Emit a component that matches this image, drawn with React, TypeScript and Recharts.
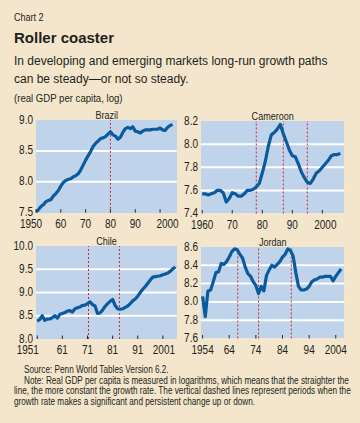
import { LineChart, Line, XAxis, YAxis, ReferenceLine } from "recharts";

const BG = "#f3e6cc";
const PLOT_BG = "#bfd3ea";
const LINE = "#0b5a9e";
const BREAK = "#c8283c";
const INK = "#231f20";
const SANS = '"Liberation Sans", Arial, sans-serif';
const SQUEEZE = 0.82; // no narrow face installed, so squeeze Liberation Sans

// real GDP per capita (log)
const BRAZIL_START = 1950;
const BRAZIL_GDP = [
  7.51, 7.55, 7.6, 7.63, 7.68, 7.7, 7.71, 7.77, 7.81, 7.86,
  7.93, 7.99, 8.02, 8.04, 8.05, 8.08, 8.1, 8.13, 8.19, 8.27,
  8.35, 8.42, 8.49, 8.57, 8.62, 8.66, 8.7, 8.71, 8.73, 8.77,
  8.81, 8.76, 8.74, 8.69, 8.72, 8.8, 8.86, 8.88, 8.86, 8.89,
  8.82, 8.81, 8.79, 8.82, 8.84, 8.84, 8.84, 8.85, 8.85, 8.85,
  8.87, 8.84, 8.83, 8.88, 8.91, 8.93,
];
const BRAZIL_BREAKS = [1980];
const BRAZIL_XTICKS = [1950, 1960, 1970, 1980, 1990, 2000];
const BRAZIL_XLABELS = ["1950", "60", "70", "80", "90", "2000"];
const BRAZIL_YTICKS = [7.5, 8.0, 8.5, 9.0];

const CAMEROON_START = 1960;
const CAMEROON_GDP = [
  7.57, 7.57, 7.56, 7.57, 7.58, 7.6, 7.6, 7.58, 7.5, 7.53,
  7.58, 7.57, 7.55, 7.55, 7.57, 7.6, 7.6, 7.61, 7.63, 7.66,
  7.75, 7.85, 7.98, 8.08, 8.1, 8.13, 8.17, 8.09, 8.02, 7.95,
  7.9, 7.89, 7.83, 7.76, 7.71, 7.67, 7.66, 7.7, 7.75, 7.77,
  7.8, 7.83, 7.86, 7.9, 7.91, 7.91, 7.92,
];
const CAMEROON_BREAKS = [1978, 1987, 1995];
const CAMEROON_XTICKS = [1960, 1970, 1980, 1990, 2000];
const CAMEROON_XLABELS = ["1960", "70", "80", "90", "2000"];
const CAMEROON_YTICKS = [7.4, 7.6, 7.8, 8.0, 8.2];

const CHILE_START = 1951;
const CHILE_GDP = [
  8.38, 8.42, 8.5, 8.4, 8.43, 8.43, 8.46, 8.5, 8.45, 8.53,
  8.55, 8.57, 8.6, 8.61, 8.58, 8.65, 8.67, 8.69, 8.72, 8.73,
  8.76, 8.8, 8.74, 8.71, 8.55, 8.56, 8.62, 8.7, 8.76, 8.81,
  8.85, 8.72, 8.65, 8.64, 8.65, 8.68, 8.71, 8.76, 8.82, 8.86,
  8.92, 9.0, 9.07, 9.13, 9.2, 9.27, 9.33, 9.34, 9.35, 9.36,
  9.38, 9.4, 9.42, 9.46, 9.51, 9.55,
];
const CHILE_BREAKS = [1971.4, 1983.7];
const CHILE_XTICKS = [1951, 1961, 1971, 1981, 1991, 2001];
const CHILE_XLABELS = ["1951", "61", "71", "81", "91", "2001"];
const CHILE_YTICKS = [8.0, 8.5, 9.0, 9.5, 10.0];

const JORDAN_START = 1954;
const JORDAN_GDP = [
  8.06, 7.84, 8.12, 8.13, 8.22, 8.32, 8.33, 8.42, 8.41, 8.44,
  8.49, 8.55, 8.58, 8.57, 8.52, 8.48, 8.38, 8.31, 8.28, 8.22,
  8.18, 8.09, 8.17, 8.12, 8.29, 8.35, 8.4, 8.38, 8.41, 8.44,
  8.49, 8.52, 8.58, 8.56, 8.5, 8.32, 8.17, 8.13, 8.13, 8.14,
  8.17, 8.22, 8.24, 8.25, 8.27, 8.27, 8.28, 8.28, 8.28, 8.23,
  8.28, 8.32, 8.36,
];
const JORDAN_BREAKS = [1967.2, 1975, 1987.3];
const JORDAN_XTICKS = [1954, 1964, 1974, 1984, 1994, 2004];
const JORDAN_XLABELS = ["1954", "64", "74", "84", "94", "2004"];
const JORDAN_YTICKS = [7.6, 7.8, 8.0, 8.2, 8.4, 8.6];

function SvgNarrow({ x, y, anchor, size, children }: any) {
  return (
    <text
      transform={`translate(${x},${y}) scale(${SQUEEZE},1)`}
      textAnchor={anchor}
      dominantBaseline="central"
      fontSize={size}
      fontFamily={SANS}
      fill={INK}
    >
      {children}
    </text>
  );
}

function Narrow({ left, top, size, children, indent = 0 }: any) {
  return (
    <div
      style={{
        position: "absolute",
        left: left + indent,
        top,
        fontFamily: SANS,
        fontSize: size,
        whiteSpace: "nowrap",
        transform: `scaleX(${SQUEEZE})`,
        transformOrigin: "left top",
        color: INK,
      }}
    >
      {children}
    </div>
  );
}

function XTick(props: any) {
  const { x, y, index, labels, shifts } = props;
  const dx = index === 0 ? shifts[0] : index === labels.length - 1 ? shifts[1] : 0;
  return (
    <g>
      <line x1={x} x2={x} y1={y - 3.5} y2={y} stroke="#2a2a2a" strokeWidth={1} />
      <SvgNarrow x={x + dx} y={y + 11} anchor="middle" size={12.2}>
        {labels[index]}
      </SvgNarrow>
    </g>
  );
}

function YTick(props: any) {
  const { x, y, payload } = props;
  return (
    <SvgNarrow x={x} y={y - 0.8} anchor="end" size={12.2}>
      {payload.value.toFixed(1)}
    </SvgNarrow>
  );
}

interface PanelProps {
  title: string;
  start: number;
  values: number[];
  breaks: number[];
  xTicks: number[];
  xLabels: string[];
  yTicks: number[];
  xDomain: [number, number];
  left: number;
  width: number;
  plot: { x0: number; y0: number; x1: number; y1: number };
  shifts: [number, number];
}

function Panel({ title, start, values, breaks, xTicks, xLabels, yTicks, xDomain, left, width, plot, shifts }: PanelProps) {
  const data = values.map((v, i) => ({ year: start + i, gdp: v }));
  const top = plot.y0 - 14;
  const axisH = 22;
  const height = plot.y1 - top + axisH;
  const yDomain: [number, number] = [yTicks[0], yTicks[yTicks.length - 1]];
  return (
    <>
      <div
        style={{
          position: "absolute",
          left: plot.x0,
          top: plot.y0,
          width: plot.x1 - plot.x0,
          height: plot.y1 - plot.y0,
          background: PLOT_BG,
        }}
      />
      <div style={{ position: "absolute", left, top }}>
        <LineChart
          width={width}
          height={height}
          data={data}
          margin={{ top: plot.y0 - top, right: left + width - plot.x1, bottom: 0, left: 0 }}
        >
          <XAxis
            dataKey="year"
            type="number"
            domain={xDomain}
            ticks={xTicks}
            allowDataOverflow
            axisLine={false}
            tickLine={false}
            tickSize={0}
            tickMargin={0}
            height={axisH}
            interval={0}
            tick={<XTick labels={xLabels} shifts={shifts} />}
          />
          <YAxis
            type="number"
            domain={yDomain}
            ticks={yTicks}
            allowDataOverflow
            axisLine={false}
            tickLine={false}
            tickSize={0}
            tickMargin={3}
            width={plot.x0 - left}
            interval={0}
            tick={<YTick />}
          />
          {yTicks.slice(1, -1).map((v) => (
            <ReferenceLine key={"g" + v} y={v} stroke="#ffffff" strokeWidth={2} />
          ))}
          {breaks.map((b) => (
            <ReferenceLine key={"b" + b} x={b} stroke={BREAK} strokeWidth={1} strokeDasharray="2 2" />
          ))}
          <Line
            dataKey="gdp"
            type="linear"
            stroke={LINE}
            strokeWidth={3.2}
            strokeLinejoin="round"
            dot={false}
            isAnimationActive={false}
          />
        </LineChart>
      </div>
      <div
        style={{
          position: "absolute",
          left: plot.x0,
          width: plot.x1 - plot.x0,
          top: plot.y0 - 11,
          lineHeight: "10px",
          textAlign: "center",
        }}
      >
        <span
          style={{
            display: "inline-block",
            fontFamily: SANS,
            fontSize: 11,
            color: INK,
            transform: `scaleX(${SQUEEZE})`,
          }}
        >
          {title}
        </span>
      </div>
    </>
  );
}

export default function App() {
  return (
    <div
      style={{
        position: "absolute",
        left: 0,
        top: 0,
        width: 360,
        height: 423,
        background: BG,
        overflow: "hidden",
        color: INK,
      }}
    >
      <Narrow left={14} top={11} size={11}>Chart 2</Narrow>
      <div style={{ position: "absolute", left: 14, top: 29, fontFamily: SANS, fontSize: 15, fontWeight: "bold" }}>
        Roller coaster
      </div>
      <div style={{ position: "absolute", left: 14, top: 53, fontFamily: SANS, fontSize: 12, lineHeight: "17.5px", width: 340 }}>
        In developing and emerging markets long-run growth paths
        <br />
        can be steady—or not so steady.
      </div>
      <Narrow left={14} top={91} size={11.7}>(real GDP per capita, log)</Narrow>

      <Panel
        title="Brazil"
        start={BRAZIL_START}
        values={BRAZIL_GDP}
        breaks={BRAZIL_BREAKS}
        xTicks={BRAZIL_XTICKS}
        xLabels={BRAZIL_XLABELS}
        yTicks={BRAZIL_YTICKS}
        xDomain={[1950, 2006.7]}
        left={0}
        width={180}
        plot={{ x0: 36, y0: 120, x1: 176.7, y1: 212.7 }}
        shifts={[-5, 7.5]}
      />
      <Panel
        title="Cameroon"
        start={CAMEROON_START}
        values={CAMEROON_GDP}
        breaks={CAMEROON_BREAKS}
        xTicks={CAMEROON_XTICKS}
        xLabels={CAMEROON_XLABELS}
        yTicks={CAMEROON_YTICKS}
        xDomain={[1959.6, 2007.3]}
        left={165}
        width={185}
        plot={{ x0: 201, y0: 120.5, x1: 344.3, y1: 213 }}
        shifts={[0, 3]}
      />
      <Panel
        title="Chile"
        start={CHILE_START}
        values={CHILE_GDP}
        breaks={CHILE_BREAKS}
        xTicks={CHILE_XTICKS}
        xLabels={CHILE_XLABELS}
        yTicks={CHILE_YTICKS}
        xDomain={[1950.5, 2006.5]}
        left={0}
        width={180}
        plot={{ x0: 36, y0: 246, x1: 176.7, y1: 339 }}
        shifts={[-9.5, 1]}
      />
      <Panel
        title="Jordan"
        start={JORDAN_START}
        values={JORDAN_GDP}
        breaks={JORDAN_BREAKS}
        xTicks={JORDAN_XTICKS}
        xLabels={JORDAN_XLABELS}
        yTicks={JORDAN_YTICKS}
        xDomain={[1953.4, 2007.2]}
        left={165}
        width={185}
        plot={{ x0: 201, y0: 246.5, x1: 344.3, y1: 338 }}
        shifts={[0, 0]}
      />

      <Narrow left={14} indent={10} top={364} size={10}>Source: Penn World Tables Version 6.2.</Narrow>
      <Narrow left={14} indent={10} top={374.7} size={10}>
        Note: Real GDP per capita is measured in logarithms, which means that the straighter the
      </Narrow>
      <Narrow left={14} top={385.4} size={10}>
        line, the more constant the growth rate. The vertical dashed lines represent periods when the
      </Narrow>
      <Narrow left={14} top={396.1} size={10}>
        growth rate makes a significant and persistent change up or down.
      </Narrow>
    </div>
  );
}
